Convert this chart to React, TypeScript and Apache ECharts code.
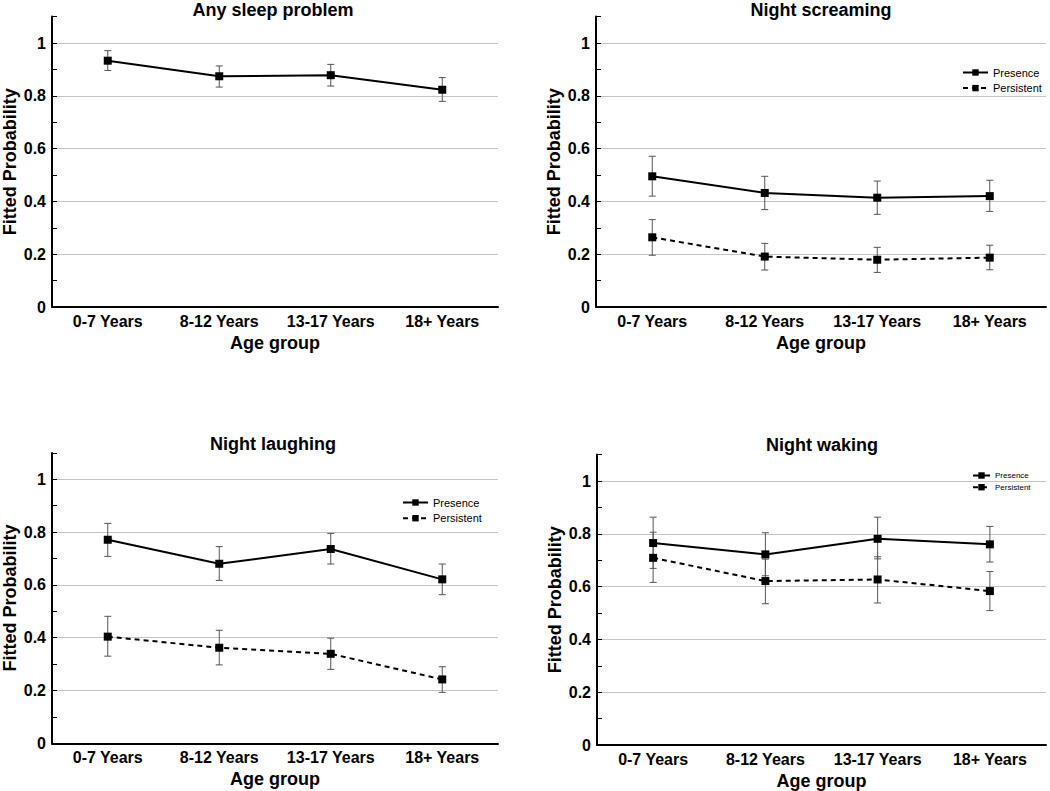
import React, { useEffect, useRef } from "react";
import * as echarts from "echarts";

const categories = ["0-7 Years", "8-12 Years", "13-17 Years", "18+ Years"];

const anyPresence = [0.933, 0.874, 0.878, 0.823];
const anyPresenceLow = [0.896, 0.833, 0.837, 0.779];
const anyPresenceHigh = [0.971, 0.913, 0.919, 0.869];

const screamPresence = [0.495, 0.432, 0.414, 0.42];
const screamPresenceLow = [0.42, 0.369, 0.351, 0.362];
const screamPresenceHigh = [0.571, 0.495, 0.477, 0.48];
const screamPersistent = [0.264, 0.191, 0.179, 0.187];
const screamPersistentLow = [0.196, 0.14, 0.131, 0.141];
const screamPersistentHigh = [0.331, 0.241, 0.226, 0.234];

const laughPresence = [0.771, 0.68, 0.736, 0.621];
const laughPresenceLow = [0.708, 0.617, 0.679, 0.563];
const laughPresenceHigh = [0.833, 0.745, 0.795, 0.679];
const laughPersistent = [0.404, 0.362, 0.339, 0.242];
const laughPersistentLow = [0.33, 0.297, 0.28, 0.193];
const laughPersistentHigh = [0.481, 0.428, 0.398, 0.29];

const wakePresence = [0.765, 0.722, 0.781, 0.76];
const wakePresenceLow = [0.669, 0.641, 0.705, 0.693];
const wakePresenceHigh = [0.863, 0.804, 0.863, 0.828];
const wakePersistent = [0.709, 0.621, 0.627, 0.583];
const wakePersistentLow = [0.616, 0.535, 0.538, 0.509];
const wakePersistentHigh = [0.806, 0.704, 0.713, 0.657];

const panelTitles = ["Any sleep problem", "Night screaming", "Night laughing", "Night waking"];
const yTicks = [0, 0.2, 0.4, 0.6, 0.8, 1];

const FONT = "'Liberation Sans', Arial, Helvetica, sans-serif";

export default function App() {
  const ref = useRef<HTMLDivElement>(null);

  useEffect(() => {
    if (!ref.current) return;
    const chart = echarts.init(ref.current, null, { renderer: "svg" });

    const grids = [
      { left: 49, width: 449, top: 16.6, height: 290.4 },
      { left: 596, width: 450, top: 16.6, height: 290.4 },
      { left: 49, width: 449, top: 452.9, height: 290.4 },
      { left: 597, width: 449, top: 454.6, height: 290.4 },
    ];

    const xAxes = grids.map((_, i) => ({
      gridIndex: i,
      type: "category",
      data: categories,
      boundaryGap: true,
      axisLine: { show: true, lineStyle: { color: "#000", width: 2 } },
      axisTick: { show: false },
      axisLabel: {
        interval: 0,
        margin: 6,
        fontSize: 16,
        fontWeight: "bold",
        color: "#000",
        fontFamily: FONT,
      },
      splitLine: { show: false },
      name: "Age group",
      nameLocation: "middle",
      nameGap: 27,
      nameTextStyle: { fontSize: 18, fontWeight: "bold", color: "#000", fontFamily: FONT },
    }));

    const yAxes = grids.map((_, i) => ({
      gridIndex: i,
      type: "value",
      min: 0,
      max: 1.1,
      interval: 0.1,
      axisLine: { show: true, lineStyle: { color: "#000", width: 2 } },
      axisTick: { show: true, inside: true, length: 5, lineStyle: { color: "#000", width: 1 } },
      axisLabel: {
        margin: 6,
        fontSize: 16,
        fontWeight: "bold",
        color: "#000",
        fontFamily: FONT,
        formatter: (v: number) => {
          const t = Math.round(v * 10);
          const hit = yTicks.find((y) => Math.round(y * 10) === t);
          return hit === undefined ? "" : String(hit);
        },
      },
      splitLine: {
        show: true,
        lineStyle: { color: ["#c4c4c4", "rgba(0,0,0,0)"], width: 1 },
      },
      name: "Fitted Probability",
      nameLocation: "middle",
      nameGap: 33,
      nameTextStyle: { fontSize: 18, fontWeight: "bold", color: "#000", fontFamily: FONT },
    }));

    const lineSeries = (name: string, data: number[], idx: number, dashed: boolean) => ({
      type: "line",
      name,
      xAxisIndex: idx,
      yAxisIndex: idx,
      data,
      symbol: "rect",
      symbolSize: 8,
      z: 3,
      itemStyle: { color: "#000" },
      lineStyle: { color: "#000", width: 2, type: dashed ? [5, 4] : "solid" },
    });

    const errSeries = (low: number[], high: number[], idx: number) => ({
      type: "custom",
      xAxisIndex: idx,
      yAxisIndex: idx,
      z: 2,
      silent: true,
      data: categories.map((_, i) => [i, low[i], high[i]]),
      encode: { x: 0, y: [1, 2] },
      renderItem: (params: any, api: any) => {
        const x = api.value(0);
        const lo = api.coord([x, api.value(1)]);
        const hi = api.coord([x, api.value(2)]);
        const w = 3.5;
        const style = { stroke: "#555", lineWidth: 1 };
        return {
          type: "group",
          children: [
            { type: "line", shape: { x1: lo[0], y1: lo[1], x2: hi[0], y2: hi[1] }, style },
            { type: "line", shape: { x1: hi[0] - w, y1: hi[1], x2: hi[0] + w, y2: hi[1] }, style },
            { type: "line", shape: { x1: lo[0] - w, y1: lo[1], x2: lo[0] + w, y2: lo[1] }, style },
          ],
        };
      },
    });

    const series = [
      errSeries(anyPresenceLow, anyPresenceHigh, 0),
      lineSeries("Any sleep problem", anyPresence, 0, false),
      errSeries(screamPresenceLow, screamPresenceHigh, 1),
      errSeries(screamPersistentLow, screamPersistentHigh, 1),
      lineSeries("Presence", screamPresence, 1, false),
      lineSeries("Persistent", screamPersistent, 1, true),
      errSeries(laughPresenceLow, laughPresenceHigh, 2),
      errSeries(laughPersistentLow, laughPersistentHigh, 2),
      lineSeries("Presence", laughPresence, 2, false),
      lineSeries("Persistent", laughPersistent, 2, true),
      errSeries(wakePresenceLow, wakePresenceHigh, 3),
      errSeries(wakePersistentLow, wakePersistentHigh, 3),
      lineSeries("Presence", wakePresence, 3, false),
      lineSeries("Persistent", wakePersistent, 3, true),
    ];

    const legendBase = {
      orient: "vertical",
      data: ["Presence", "Persistent"],
      selectedMode: false,
      itemHeight: 8,
      padding: 0,
    };

    const titlePos = [
      { x: 273, y: 10 },
      { x: 821, y: 10 },
      { x: 273, y: 444 },
      { x: 822, y: 445 },
    ];

    chart.setOption({
      animation: false,
      backgroundColor: "#fff",
      grid: grids,
      xAxis: xAxes,
      yAxis: yAxes,
      series,
      legend: [
        {
          ...legendBase,
          left: 962,
          top: 66,
          itemWidth: 25,
          itemGap: 2.6,
          textStyle: { fontSize: 11, lineHeight: 13, color: "#000", fontFamily: FONT },
        },
        {
          ...legendBase,
          left: 402,
          top: 496,
          itemWidth: 25,
          itemGap: 2.7,
          textStyle: { fontSize: 11, lineHeight: 13, color: "#000", fontFamily: FONT },
        },
        {
          ...legendBase,
          left: 972,
          top: 471,
          itemWidth: 17,
          itemGap: 2.7,
          textStyle: { fontSize: 8, lineHeight: 9, color: "#000", fontFamily: FONT },
        },
      ],
      graphic: panelTitles.map((t, i) => ({
        type: "text",
        x: titlePos[i].x,
        y: titlePos[i].y,
        silent: true,
        style: {
          text: t,
          align: "center",
          verticalAlign: "middle",
          fontSize: 18,
          fontWeight: "bold",
          fontFamily: FONT,
          fill: "#000",
        },
      })),
    });

    return () => chart.dispose();
  }, []);

  return (
    <div
      ref={ref}
      style={{ position: "absolute", left: 0, top: 0, width: 1050, height: 791 }}
    />
  );
}
